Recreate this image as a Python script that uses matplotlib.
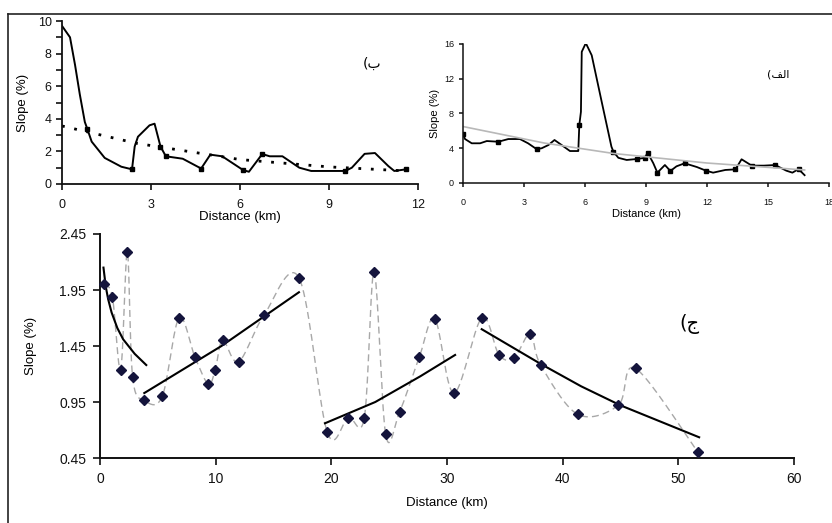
import numpy as np
import matplotlib
matplotlib.use("Agg")
import matplotlib.pyplot as plt
from matplotlib.ticker import MultipleLocator, FixedLocator
from matplotlib.lines import Line2D

plt.rcParams['font.family'] = ['Liberation Sans', 'DejaVu Sans']

# ---- panel (ب): slope profile, 0-12 km ----
b_dist = [0, 0.27, 0.44, 0.6, 0.77, 0.85, 1.0, 1.44, 2.0, 2.36, 2.45, 2.56, 2.95,
          3.12, 3.32, 3.5, 4.07, 4.69, 5.0, 5.4, 6.1, 6.3, 6.75, 7.0, 7.43, 8.0,
          8.4, 9.55, 9.77, 10.2, 10.55, 11.0, 11.2, 11.6]
b_slope = [9.7, 9.0, 7.3, 5.5, 3.8, 3.4, 2.6, 1.6, 1.06, 0.9, 2.3, 2.9, 3.6,
           3.7, 2.3, 1.7, 1.55, 0.95, 1.8, 1.7, 0.86, 0.75, 1.84, 1.7, 1.7, 1.0,
           0.8, 0.8, 1.0, 1.85, 1.9, 1.1, 0.8, 0.9]
b_marked = [5, 9, 14, 15, 17, 20, 22, 27, 33]
b_trend_dist = [0, 2.5, 6, 9, 11.6]
b_trend_slope = [3.56, 2.5, 1.5, 1.05, 0.8]

# ---- panel (الف): slope profile, 0-18 km ----
a_dist = [0, 0.1, 0.43, 0.84, 1.17, 1.74, 2.23, 2.8, 3.2, 3.62, 3.87, 4.2, 4.5,
          4.85, 5.26, 5.67, 5.72, 5.8, 5.84, 6.04, 6.33, 6.82, 7.3, 7.4, 7.64,
          8.05, 8.54, 8.95, 9.08, 9.36, 9.56, 9.93, 10.2, 10.5, 10.9, 11.5, 11.95,
          12.3, 12.9, 13.4, 13.7, 14.2, 14.8, 15.35, 15.9, 16.2, 16.5, 16.8]
a_slope = [5.6, 5.06, 4.57, 4.57, 4.83, 4.75, 5.06, 5.06, 4.57, 3.9, 4.0, 4.37,
           4.95, 4.37, 3.68, 3.68, 6.67, 8.2, 15.1, 16.1, 14.7, 9.36, 4.18, 3.6,
           2.9, 2.65, 2.76, 2.9, 3.5, 2.27, 1.19, 2.07, 1.38, 1.92, 2.27, 1.84,
           1.42, 1.19, 1.5, 1.57, 2.73, 2.0, 2.0, 2.07, 1.42, 1.19, 1.6, 0.9]
a_marked = [0, 5, 9, 16, 23, 26, 27, 28, 30, 32, 34, 36, 39, 41, 43, 46]
a_trend_dist = [0, 4, 7.4, 12, 16.8]
a_trend_slope = [6.5, 4.6, 3.4, 2.3, 1.5]

# ---- panel (ج): sampled slope, 0-60 km ----
c_dist = [0.35, 1.07, 1.79, 2.36, 2.82, 3.83, 5.38, 6.83, 8.21, 9.36, 9.97, 10.6,
          11.99, 14.2, 17.2, 19.65, 21.46, 22.85, 23.7, 24.7, 25.9, 27.6, 28.95,
          30.6, 33.0, 34.5, 35.8, 37.2, 38.1, 41.3, 44.8, 46.3, 51.7]
c_slope = [2.0, 1.89, 1.24, 2.29, 1.17, 0.965, 1.0, 1.70, 1.35, 1.11, 1.24, 1.50,
           1.31, 1.73, 2.06, 0.68, 0.81, 0.81, 2.11, 0.66, 0.86, 1.35, 1.69, 1.03,
           1.70, 1.37, 1.345, 1.56, 1.28, 0.84, 0.92, 1.25, 0.50]
c_trend1_dist = [0.3, 0.5, 0.7, 1.0, 1.5, 2.0, 3.0, 4.0]
c_trend1_slope = [2.15, 1.98, 1.87, 1.75, 1.61, 1.51, 1.38, 1.28]
c_trend2_dist = [3.83, 10.5, 17.2]
c_trend2_slope = [1.03, 1.45, 1.93]
c_trend3_dist = [19.45, 23.8, 27.7, 30.7]
c_trend3_slope = [0.76, 0.95, 1.18, 1.37]
c_trend4_dist = [33.0, 38.1, 41.6, 45.0, 51.8]
c_trend4_slope = [1.60, 1.29, 1.09, 0.92, 0.635]

c_yticks = [0.45, 0.95, 1.45, 1.95, 2.45]
c_xticks = [0, 10, 20, 30, 40, 50, 60]

# panel captions, glyphs given left-to-right as they appear on the page
label_b = '(ب'
label_a = '(ﻒﻟﺍ'
label_c = '(ج'


def smooth_path(xs, ys, n=20):
    """Bezier smoothing through the points (Catmull-Rom control points)."""
    p = np.column_stack([xs, ys]).astype(float)
    out = []
    for i in range(len(p) - 1):
        p0 = p[i - 1] if i > 0 else p[i]
        p1, p2 = p[i], p[i + 1]
        p3 = p[i + 2] if i + 2 < len(p) else p[i + 1]
        c1 = p1 + (p2 - p0) / 6.0
        c2 = p2 - (p3 - p1) / 6.0
        t = np.linspace(0, 1, n)[:, None]
        seg = ((1 - t) ** 3) * p1 + 3 * ((1 - t) ** 2) * t * c1 + \
            3 * (1 - t) * t ** 2 * c2 + t ** 3 * p2
        out.append(seg if i == 0 else seg[1:])
    out = np.vstack(out)
    return out[:, 0], out[:, 1]


def style_axes(ax, lw=1.3):
    for s in ('top', 'right'):
        ax.spines[s].set_visible(False)
    for s in ('left', 'bottom'):
        ax.spines[s].set_linewidth(lw)
        ax.spines[s].set_color('#111111')
    ax.set_facecolor('none')


W, H = 832, 523
fig = plt.figure(figsize=(W / 100, H / 100), dpi=100)


def box(x0, x1, ytop, ybot):
    return [x0 / W, 1 - ybot / H, (x1 - x0) / W, (ybot - ytop) / H]


# outer frame
fig.add_artist(Line2D([8 / W, 8 / W], [0, 1 - 14 / H], color='#222222', lw=1.2))
fig.add_artist(Line2D([8 / W, 1], [1 - 14 / H, 1 - 14 / H], color='#222222', lw=1.2))

# ---- top-left panel ----
ax1 = fig.add_axes(box(62, 418, 21, 184))
style_axes(ax1)
ax1.plot(b_dist, b_slope, color='black', lw=1.4)
ax1.plot([b_dist[i] for i in b_marked], [b_slope[i] for i in b_marked],
         ls='none', marker='s', ms=2.5, color='black')
ax1.plot(b_trend_dist, b_trend_slope, color='black', lw=2.0,
         ls=(0, (1.0, 3.5)))
ax1.set_xlim(0, 12)
ax1.set_ylim(0, 10)
ax1.xaxis.set_major_locator(MultipleLocator(3))
ax1.yaxis.set_major_locator(MultipleLocator(2))
ax1.yaxis.set_minor_locator(MultipleLocator(1))
ax1.tick_params(which='both', direction='out', length=4, width=1.2, labelsize=9,
                colors='#111111')
ax1.tick_params(axis='x', pad=7)
ax1.set_xlabel('Distance (km)', fontsize=9.5, labelpad=0)
ax1.set_ylabel('Slope (%)', fontsize=9.5, labelpad=6)
ax1.text(0.87, 0.74, label_b, transform=ax1.transAxes, fontsize=10,
         family=['DejaVu Sans'], ha='center', va='center')

# ---- top-right panel ----
ax2 = fig.add_axes(box(463, 829, 44, 183))
style_axes(ax2, lw=1.1)
ax2.plot(a_dist, a_slope, color='black', lw=1.3)
ax2.plot([a_dist[i] for i in a_marked], [a_slope[i] for i in a_marked],
         ls='none', marker='s', ms=3.2, color='black')
ax2.plot(a_trend_dist, a_trend_slope, color='#b8b8b8', lw=1.2)
ax2.set_xlim(0, 18)
ax2.set_ylim(0, 16)
ax2.xaxis.set_major_locator(MultipleLocator(3))
ax2.yaxis.set_major_locator(MultipleLocator(4))
ax2.tick_params(direction='out', length=3, width=1.1, labelsize=6.5,
                colors='#111111')
ax2.tick_params(axis='x', pad=8)
ax2.set_xlabel('Distance (km)', fontsize=8, labelpad=1)
ax2.set_ylabel('Slope (%)', fontsize=8, labelpad=3)
ax2.text(0.86, 0.78, label_a, transform=ax2.transAxes, fontsize=8,
         family=['DejaVu Sans'], ha='center', va='center')

# ---- bottom panel ----
ax3 = fig.add_axes(box(100, 794, 234, 458))
style_axes(ax3, lw=1.4)
sx, sy = smooth_path(c_dist, c_slope)
ax3.plot(sx, sy, color='#a8a8a8', lw=1.0, ls=(0, (5, 3)))
for tx, ty in ((c_trend1_dist, c_trend1_slope), (c_trend2_dist, c_trend2_slope),
               (c_trend3_dist, c_trend3_slope), (c_trend4_dist, c_trend4_slope)):
    ax3.plot(tx, ty, color='black', lw=1.5)
ax3.plot(c_dist, c_slope, ls='none', marker='D', ms=5, color='#14143c',
         clip_on=False, zorder=5)
ax3.set_xlim(0, 60)
ax3.set_ylim(0.45, 2.45)
ax3.xaxis.set_major_locator(FixedLocator(c_xticks))
ax3.yaxis.set_major_locator(FixedLocator(c_yticks))
ax3.set_yticklabels([f'{v:.2f}' for v in c_yticks])
ax3.tick_params(direction='out', length=5, width=1.2, labelsize=10,
                colors='#111111', pad=5)
ax3.set_xlabel('Distance (km)', fontsize=9.5, labelpad=8)
ax3.set_ylabel('Slope (%)', fontsize=9.5, labelpad=16)
ax3.text(0.85, 0.60, label_c, transform=ax3.transAxes, fontsize=14,
         family=['DejaVu Sans'], ha='center', va='center')

fig.savefig('out.png', dpi=100)
